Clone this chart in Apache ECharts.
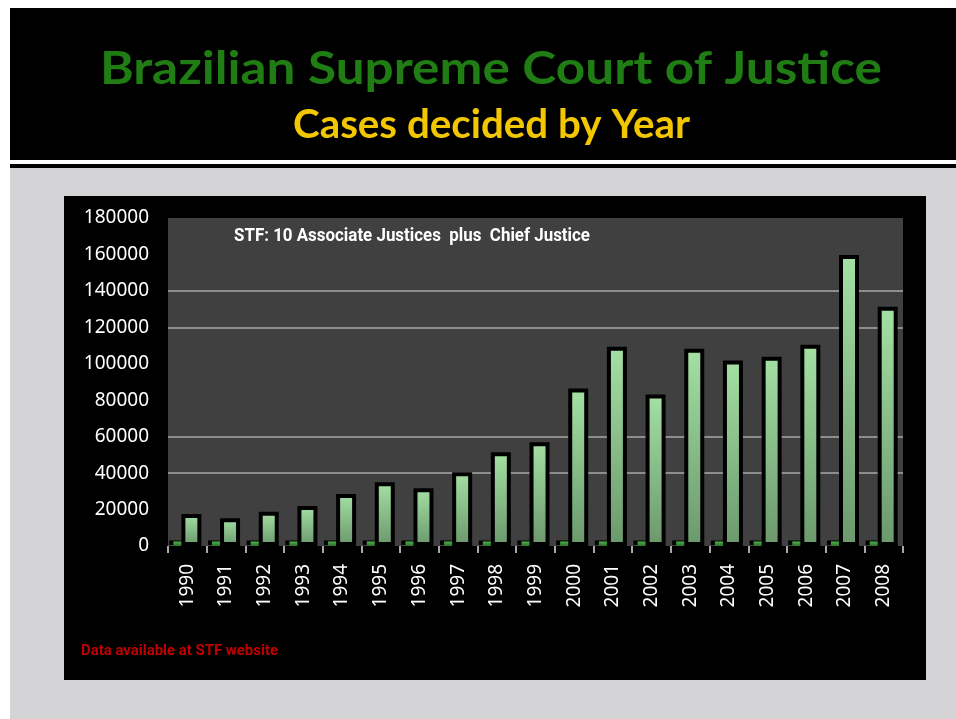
<!doctype html>
<html>
<head>
<meta charset="utf-8">
<title>Cases decided by Year</title>
<script src="https://cdn.jsdelivr.net/npm/echarts@6/dist/echarts.min.js"></script>
<style>
  html, body { margin: 0; padding: 0; background: #fff; }
  #main { width: 956px; height: 719px; }
</style>
</head>
<body>
<div id="main"></div>
<script type="text/javascript">
  // data
  var years = ['1990', '1991', '1992', '1993', '1994', '1995', '1996', '1997', '1998', '1999',
               '2000', '2001', '2002', '2003', '2004', '2005', '2006', '2007', '2008'];
  var casesDecided = [17500, 15200, 18800, 22000, 28600, 35000, 31700, 40500, 51400, 56900,
                      86400, 109400, 83200, 108300, 101800, 103900, 110500, 159700, 131300];
  var smallSeries = [2500, 2500, 2500, 2500, 2500, 2500, 2500, 2500, 2500, 2500,
                     2500, 2500, 2500, 2500, 2500, 2500, 2500, 2500, 2500];
  var yTicks = [0, 20000, 40000, 60000, 80000, 100000, 120000, 140000, 160000, 180000];
  var gridLineValues = [40000, 60000, 120000, 140000];

  var mainTitle = 'Brazilian Supreme Court of Justice';
  var subTitle = 'Cases decided by Year';
  var chartTitle = 'STF: 10 Associate Justices  plus  Chief Justice';
  var footNote = 'Data available at STF website';

  // squeeze a text to a given width (the original fonts are narrower)
  var measureCtx = document.createElement('canvas').getContext('2d');
  function fitScale(text, font, target) {
    measureCtx.font = font;
    return target / measureCtx.measureText(text).width;
  }

  var titleFont = 'bold 45px Lato';
  var subFont = 'bold 41px Lato';
  var chartTitleFont = 'bold 18px Roboto';
  var footFont = 'bold 14px Roboto';

  // only some of the grid lines are drawn in the original
  var splitColors = yTicks.map(function (v) {
    return gridLineValues.indexOf(v) >= 0 ? '#8e8e8e' : 'rgba(0,0,0,0)';
  });

  var chart = echarts.init(document.getElementById('main'));
  chart.setOption({
    backgroundColor: '#ffffff',
    animation: false,
    graphic: [
      { type: 'rect', z: -10, shape: { x: 10, y: 8, width: 946, height: 152 }, style: { fill: '#000' } },
      { type: 'rect', z: -10, shape: { x: 10, y: 164, width: 946, height: 4 }, style: { fill: '#000' } },
      { type: 'rect', z: -10, shape: { x: 10, y: 168, width: 946, height: 551 }, style: { fill: '#d4d4d6' } },
      { type: 'rect', z: -10, shape: { x: 64, y: 196, width: 862, height: 484 }, style: { fill: '#000' } },
      {
        type: 'text', z: 10, x: 100, y: 69,
        scaleX: fitScale(mainTitle, titleFont, 782),
        style: {
          text: mainTitle, font: titleFont, fill: '#1f7d14',
          textAlign: 'left', textVerticalAlign: 'middle',
          shadowColor: 'rgba(40,140,30,0.6)', shadowBlur: 3
        }
      },
      {
        type: 'text', z: 10, x: 293, y: 125,
        scaleX: fitScale(subTitle, subFont, 397),
        style: {
          text: subTitle, font: subFont, fill: '#f2c700',
          textAlign: 'left', textVerticalAlign: 'middle',
          shadowColor: 'rgba(200,160,0,0.5)', shadowBlur: 3
        }
      },
      {
        type: 'text', z: 10, x: 234, y: 236,
        scaleX: fitScale(chartTitle, chartTitleFont, 356),
        style: {
          text: chartTitle, font: chartTitleFont, fill: '#ffffff',
          textAlign: 'left', textVerticalAlign: 'middle'
        }
      },
      {
        type: 'text', z: 10, x: 81, y: 651,
        scaleX: fitScale(footNote, footFont, 197),
        style: {
          text: footNote, font: footFont, fill: '#c00000',
          textAlign: 'left', textVerticalAlign: 'middle'
        }
      }
    ],
    grid: {
      left: 168,
      top: 218,
      right: 53,
      bottom: 173,
      show: true,
      backgroundColor: '#404040',
      borderWidth: 0
    },
    xAxis: {
      type: 'category',
      data: years,
      axisLine: { show: false },
      axisTick: {
        show: true,
        interval: 0,
        length: 7,
        lineStyle: { color: '#a8a8a8', width: 2 }
      },
      axisLabel: {
        interval: 0,
        rotate: 90,
        margin: 18,
        color: '#ffffff',
        fontFamily: 'Noto Sans',
        fontSize: 19
      }
    },
    yAxis: {
      type: 'value',
      min: 0,
      max: 180000,
      interval: 20000,
      axisLine: { show: false },
      axisTick: { show: false },
      axisLabel: {
        margin: 19,
        color: '#ffffff',
        fontFamily: 'Noto Sans',
        fontSize: 19,
        formatter: function (v) { return String(v); }
      },
      splitLine: {
        show: true,
        showMinLine: true,
        showMaxLine: true,
        lineStyle: { color: splitColors, width: 2 }
      }
    },
    series: [
      {
        name: 'small',
        type: 'bar',
        data: smallSeries,
        barWidth: 13,
        barGap: '-38%',
        itemStyle: {
          color: new echarts.graphic.LinearGradient(0, 0, 0, 1, [
            { offset: 0, color: '#4cb34c' },
            { offset: 1, color: '#2b6f2b' }
          ]),
          shadowColor: '#000000',
          shadowBlur: 0,
          shadowOffsetX: -4,
          shadowOffsetY: -1
        }
      },
      {
        name: 'Cases decided',
        type: 'bar',
        data: casesDecided,
        barWidth: 20,
        itemStyle: {
          color: new echarts.graphic.LinearGradient(0, 0, 0, 1, [
            { offset: 0, color: '#a4e0a4' },
            { offset: 1, color: '#6b986c' }
          ]),
          borderColor: '#000000',
          borderWidth: 4
        }
      }
    ]
  });
</script>
</body>
</html>
